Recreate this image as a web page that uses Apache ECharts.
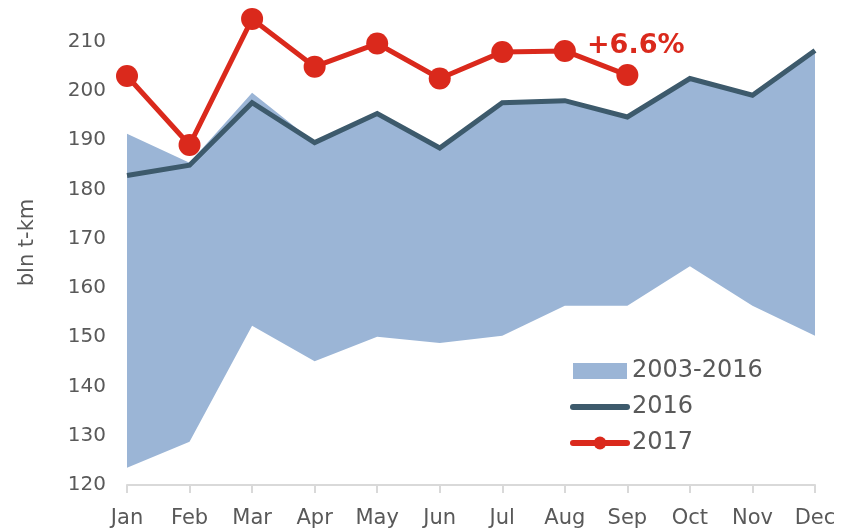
<!DOCTYPE html>
<html>
<head>
<meta charset="utf-8">
<script src="https://cdn.jsdelivr.net/npm/echarts@6/dist/echarts.min.js"></script>
<style>
html,body{margin:0;padding:0;background:#fff;}
#chart{width:861px;height:529px;}
</style>
</head>
<body>
<div id="chart"></div>
<script>
var months = ['Jan','Feb','Mar','Apr','May','Jun','Jul','Aug','Sep','Oct','Nov','Dec'];
var rangeMin = [123.5,128.8,152.3,145.1,150.1,148.8,150.3,156.4,156.4,164.4,156.4,150.3];
var rangeMax = [191.3,185.4,199.6,189.5,195.4,188.4,197.6,198.0,194.7,202.5,199.1,208.2];
var y2016 = [182.8,184.9,197.6,189.5,195.4,188.4,197.6,198.0,194.7,202.5,199.1,208.2];
var y2017 = [203.0,189.0,214.6,204.9,209.6,202.5,207.9,208.1,203.2];
var annotation = '+6.6%';

var bandHeight = rangeMax.map(function(v,i){ return +(v - rangeMin[i]).toFixed(2); });

var FONT = 'DejaVu Sans';
var GRAY = '#595959';
var chart = echarts.init(document.getElementById('chart'));
chart.setOption({
  animation: false,
  textStyle: {fontFamily: FONT},
  grid: {left: 127, right: 46, top: 12, bottom: 44, containLabel: false},
  xAxis: {
    type: 'category',
    data: months,
    boundaryGap: false,
    axisLine: {lineStyle: {color: '#d9d9d9', width: 2}},
    axisTick: {show: true, length: 8, lineStyle: {color: '#d9d9d9', width: 2}},
    axisLabel: {color: GRAY, fontSize: 21, margin: 23, fontFamily: FONT}
  },
  yAxis: {
    type: 'value',
    min: 120, max: 216, interval: 10,
    name: 'bln t-km',
    nameLocation: 'middle',
    nameGap: 89,
    nameTextStyle: {color: GRAY, fontSize: 21, fontFamily: FONT, padding: [0,0,0,12]},
    axisLine: {show: false},
    axisTick: {show: false},
    splitLine: {show: false},
    axisLabel: {color: GRAY, fontSize: 20, margin: 21, fontFamily: FONT, showMaxLabel: false,
      formatter: function(v){ return v % 10 === 0 ? v : ''; }}
  },
  legend: {
    orient: 'vertical',
    left: 570, top: 359, padding: 0,
    itemWidth: 54, itemHeight: 16, itemGap: 12,
    textStyle: {color: GRAY, fontSize: 24, fontFamily: FONT, lineHeight: 24},
    data: [
      {name: '2003-2016', icon: 'rect', itemStyle: {color: '#9bb5d6'}},
      {name: '2016', lineStyle: {width: 6, cap: 'round', color: '#3d5a6c'}, itemStyle: {opacity: 0}},
      {name: '2017', lineStyle: {width: 6, cap: 'round', color: '#da291c'}}
    ]
  },
  series: [
    {
      name: 'base', type: 'line', stack: 'band', data: rangeMin,
      symbol: 'none', lineStyle: {opacity: 0}, silent: true
    },
    {
      name: '2003-2016', type: 'line', stack: 'band', data: bandHeight,
      symbol: 'none', lineStyle: {opacity: 0, width: 0},
      itemStyle: {color: '#9bb5d6'},
      areaStyle: {color: '#9bb5d6', opacity: 1}
    },
    {
      name: '2016', type: 'line', data: y2016,
      symbol: 'none',
      itemStyle: {color: '#3d5a6c'},
      lineStyle: {color: '#3d5a6c', width: 5, join: 'miter'}
    },
    {
      name: '2017', type: 'line', data: y2017,
      symbol: 'circle', symbolSize: 22,
      itemStyle: {color: '#da291c'},
      lineStyle: {color: '#da291c', width: 5}
    }
  ],
  graphic: [{
    type: 'text', left: 587, top: 32,
    style: {text: annotation, fill: '#da291c', font: 'bold 27px "DejaVu Sans"'}
  }]
});
</script>
</body>
</html>
